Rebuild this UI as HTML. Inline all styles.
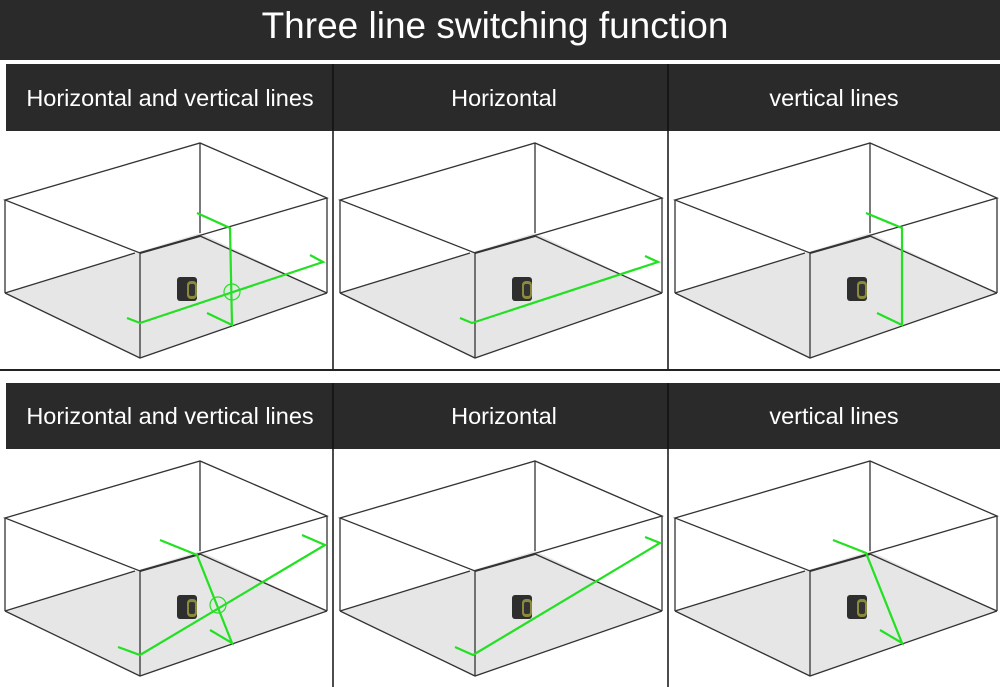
<!DOCTYPE html>
<html><head><style>
html,body{margin:0;padding:0;background:#fff;width:1000px;height:687px;overflow:hidden}
svg text{font-family:"Liberation Sans",Arial,sans-serif;fill:#fff}
</style></head><body>
<svg width="1000" height="687" viewBox="0 0 1000 687" xmlns="http://www.w3.org/2000/svg">
<defs>
<g id="box">
<polygon points="5,293 200,233 327,293 140,358" fill="#e6e6e6"/>
<g fill="none" stroke="#333" stroke-width="1.3">
<polygon points="5,200 200,143 327,198 140,253"/>
<line x1="5" y1="200" x2="5" y2="293"/>
<line x1="200" y1="143" x2="200" y2="233"/>
<line x1="327" y1="198" x2="327" y2="293"/>
<line x1="140" y1="253" x2="140" y2="358"/>
<polyline points="5,293 140,358 327,293"/>
<polyline points="5,293 135,253"/>
<polyline points="140,253 200,236" stroke-width="2.2"/>
<polyline points="200,236 327,293"/>
</g>
<g>
<rect x="177" y="277" width="20" height="24" rx="3" fill="#2e2e2e"/>
<rect x="187" y="281" width="10" height="18" rx="4" fill="#8a8a3a"/>
<rect x="189" y="284" width="6" height="12" rx="2" fill="#333"/>
</g>
</g>
</defs>
<rect x="0" y="0" width="1000" height="60" fill="#2a2a2a"/>
<text x="495" y="38" font-size="37" text-anchor="middle">Three line switching function</text>
<rect x="6" y="64" width="994" height="67" fill="#2a2a2a"/>
<rect x="6" y="383" width="994" height="66" fill="#2a2a2a"/>
<line x1="333" y1="64" x2="333" y2="370" stroke="#111" stroke-width="1.5"/>
<line x1="668" y1="64" x2="668" y2="370" stroke="#111" stroke-width="1.5"/>
<line x1="333" y1="383" x2="333" y2="687" stroke="#111" stroke-width="1.5"/>
<line x1="668" y1="383" x2="668" y2="687" stroke="#111" stroke-width="1.5"/>
<line x1="0" y1="370" x2="1000" y2="370" stroke="#222" stroke-width="2"/>
<g font-size="23.5">
<text x="170" y="106" text-anchor="middle">Horizontal and vertical lines</text>
<text x="504" y="106" text-anchor="middle">Horizontal</text>
<text x="834" y="106" text-anchor="middle">vertical lines</text>
<text x="170" y="424" text-anchor="middle">Horizontal and vertical lines</text>
<text x="504" y="424" text-anchor="middle">Horizontal</text>
<text x="834" y="424" text-anchor="middle">vertical lines</text>
</g>
<use href="#box"/>
<use href="#box" x="335"/>
<use href="#box" x="670"/>
<use href="#box" y="318"/>
<use href="#box" x="335" y="318"/>
<use href="#box" x="670" y="318"/>
<g fill="none" stroke="#22e022" stroke-width="2.2">
<polyline points="127,318 140,323 323,262 310,255"/>
<polyline points="197,213 230,228 232,325 207,313"/>
<circle cx="232" cy="292" r="8" stroke-width="1.2"/>
<polyline points="460,318 472,323 658,262 645,256"/>
<polyline points="866,213 902,228 902,325 877,313"/>
<polyline points="118,647 140,655 325,545 302,535"/>
<polyline points="160,540 197,555 232,643 210,630"/>
<circle cx="218" cy="605" r="8" stroke-width="1.2"/>
<polyline points="455,647 473,655 660,543 645,537"/>
<polyline points="833,540 866,553 902,643 880,630"/>
</g>
</svg>
</body></html>
